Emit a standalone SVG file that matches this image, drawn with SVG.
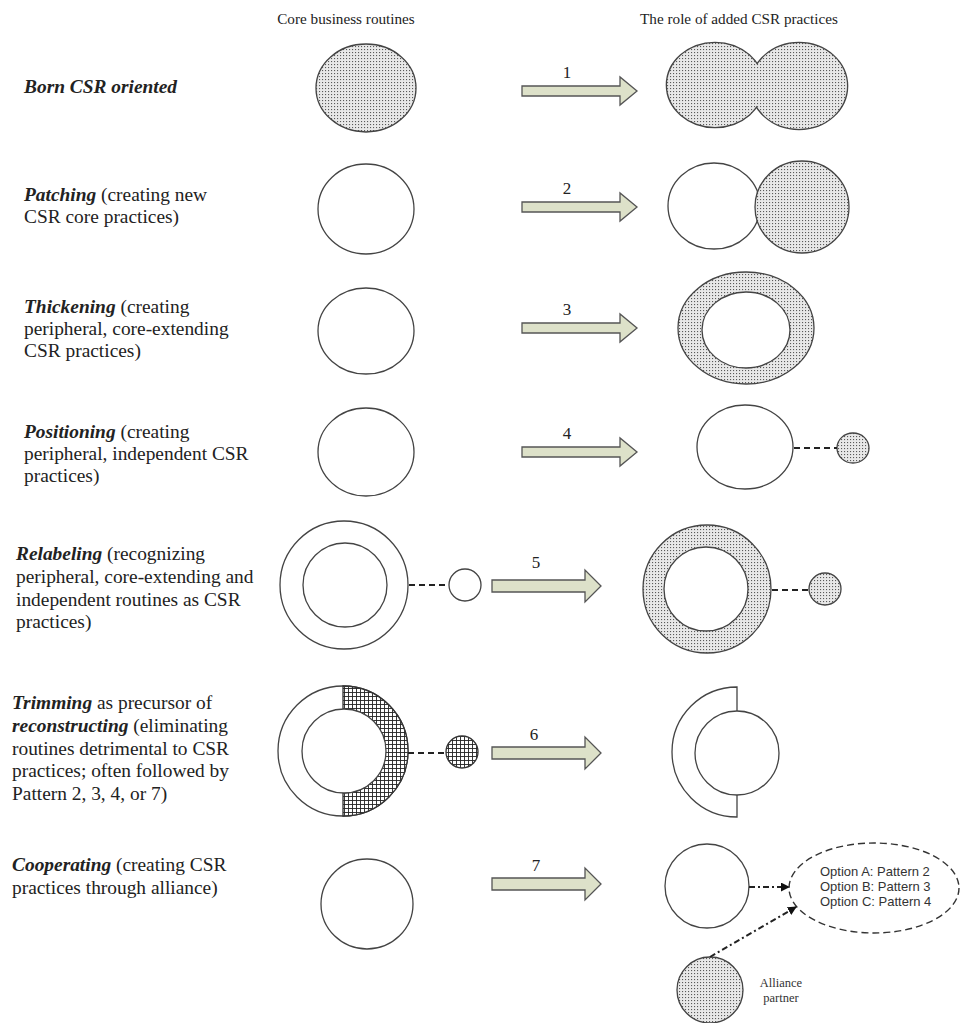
<svg xmlns="http://www.w3.org/2000/svg" width="962" height="1023" viewBox="0 0 962 1023">
<defs>
<pattern id="dots" patternUnits="userSpaceOnUse" width="3" height="3">
<rect width="3" height="3" fill="#e8e8e8"/>
<rect x="1" y="1" width="1.1" height="1.1" fill="#5a5a5a"/>
</pattern>
<pattern id="hatch" patternUnits="userSpaceOnUse" width="4" height="4">
<rect width="4" height="4" fill="#fff"/>
<path d="M0 0.5H4M0.5 0V4" stroke="#222" stroke-width="0.9"/>
</pattern>
<marker id="ah" viewBox="0 0 10 10" refX="9" refY="5" markerWidth="9" markerHeight="9" markerUnits="userSpaceOnUse" orient="auto">
<path d="M0 0L10 5L0 10Z" fill="#111"/>
</marker>
<style>
.t{font-family:"Liberation Serif","Times New Roman",serif;font-size:19.4px;fill:#222}
.h{font-family:"Liberation Serif","Times New Roman",serif;font-size:15.2px;fill:#222}
.n{font-family:"Liberation Serif","Times New Roman",serif;font-size:17px;fill:#222;text-anchor:middle}
.bi{font-weight:bold;font-style:italic}
.o{font-family:"Liberation Sans",Arial,sans-serif;font-size:13px;fill:#333}
.sm{font-family:"Liberation Serif","Times New Roman",serif;font-size:12.5px;fill:#333;text-anchor:middle}
.w{fill:#fff;stroke:#444;stroke-width:1.3}
.d{fill:url(#dots);stroke:#444;stroke-width:1.3}
.x{fill:url(#hatch);stroke:#333;stroke-width:1.3}
.arr{fill:#dde1c9;stroke:#555;stroke-width:1.3}
.dash{stroke:#222;stroke-width:2;stroke-dasharray:6 4;fill:none}
.dd{stroke:#222;stroke-width:2;stroke-dasharray:6 3 2 3;fill:none}
</style>
</defs>
<rect width="962" height="1023" fill="#fff"/>

<g id="headers">
<text class="h" x="346" y="24" text-anchor="middle">Core business routines</text>
<text class="h" x="739" y="24" text-anchor="middle">The role of added CSR practices</text>
</g>

<g id="labels">
<text class="t" x="24" y="93"><tspan class="bi">Born CSR oriented</tspan></text>
<text class="t" x="24" y="201"><tspan class="bi">Patching</tspan> (creating new</text>
<text class="t" x="24" y="223">CSR core practices)</text>
<text class="t" x="24" y="313"><tspan class="bi">Thickening</tspan> (creating</text>
<text class="t" x="24" y="335">peripheral, core-extending</text>
<text class="t" x="24" y="357">CSR practices)</text>
<text class="t" x="24" y="438"><tspan class="bi">Positioning</tspan> (creating</text>
<text class="t" x="24" y="460">peripheral, independent CSR</text>
<text class="t" x="24" y="482">practices)</text>
<text class="t" x="16" y="560"><tspan class="bi">Relabeling</tspan> (recognizing</text>
<text class="t" x="16" y="583">peripheral, core-extending and</text>
<text class="t" x="16" y="606">independent routines as CSR</text>
<text class="t" x="16" y="628">practices)</text>
<text class="t" x="12" y="709"><tspan class="bi">Trimming</tspan> as precursor of</text>
<text class="t" x="12" y="732"><tspan class="bi">reconstructing</tspan> (eliminating</text>
<text class="t" x="12" y="755">routines detrimental to CSR</text>
<text class="t" x="12" y="777">practices; often followed by</text>
<text class="t" x="12" y="800">Pattern 2, 3, 4, or 7)</text>
<text class="t" x="12" y="871"><tspan class="bi">Cooperating</tspan> (creating CSR</text>
<text class="t" x="12" y="894">practices through alliance)</text>
</g>

<g id="core1"><ellipse class="d" cx="366" cy="88" rx="50" ry="44"/></g>
<g id="core2"><ellipse class="w" cx="366" cy="209" rx="48" ry="45"/></g>
<g id="core3"><ellipse class="w" cx="366" cy="331" rx="48" ry="43"/></g>
<g id="core4"><ellipse class="w" cx="366" cy="452" rx="48" ry="44"/></g>
<g id="core5">
<circle class="w" cx="344" cy="585" r="64"/>
<circle class="w" cx="345" cy="585" r="42"/>
<circle class="w" cx="465" cy="585" r="16"/>
</g>
<g id="core6">
<circle class="w" cx="343" cy="751" r="65"/>
<path class="x" d="M343 686A65 65 0 0 1 343 816L343 793A42 42 0 0 0 343 709Z"/>
<circle class="w" cx="344" cy="751" r="42"/>
<circle class="x" cx="462" cy="752" r="16"/>
</g>
<g id="core7"><ellipse class="w" cx="367" cy="904" rx="46" ry="45"/></g>

<g id="role1">
<ellipse cx="715" cy="85" rx="48" ry="42" fill="none" stroke="#444" stroke-width="2.6"/>
<ellipse cx="799" cy="86" rx="48" ry="43" fill="none" stroke="#444" stroke-width="2.6"/>
<ellipse cx="715" cy="85" rx="48" ry="42" fill="url(#dots)"/>
<ellipse cx="799" cy="86" rx="48" ry="43" fill="url(#dots)"/>
</g>
<g id="role2">
<ellipse class="w" cx="714" cy="206" rx="46" ry="43"/>
<ellipse class="d" cx="802" cy="207" rx="47" ry="46"/>
</g>
<g id="role3">
<ellipse class="d" cx="746" cy="328" rx="68" ry="56"/>
<ellipse class="w" cx="746" cy="330" rx="44" ry="38"/>
</g>
<g id="role4">
<ellipse class="w" cx="745" cy="447" rx="48" ry="42"/>
<ellipse class="d" cx="853" cy="448" rx="16" ry="15"/>
</g>
<g id="role5">
<circle class="d" cx="707" cy="589" r="64"/>
<circle class="w" cx="706" cy="589" r="42"/>
<circle class="d" cx="825" cy="589" r="16"/>
</g>
<g id="role6">
<path d="M737 711L737 687A65 65 0 0 0 737 817L737 795" fill="#fff" stroke="#444" stroke-width="1.3"/>
<circle class="w" cx="737" cy="753" r="42"/>
</g>
<g id="role7">
<circle class="w" cx="707" cy="886" r="42"/>
<ellipse cx="874" cy="888" rx="85" ry="45" fill="#fff" stroke="#333" stroke-width="1.4" stroke-dasharray="7 4"/>
<text class="o" x="820" y="876">Option A: Pattern 2</text>
<text class="o" x="820" y="891">Option B: Pattern 3</text>
<text class="o" x="820" y="906">Option C: Pattern 4</text>
</g>
<g id="alliance">
<circle class="d" cx="710" cy="990" r="33"/>
<text class="sm" x="781" y="987">Alliance</text>
<text class="sm" x="781" y="1002">partner</text>
</g>

<g id="connectors">
<line class="dash" x1="409" y1="585" x2="449" y2="585"/>
<line class="dash" x1="408" y1="753" x2="446" y2="753"/>
<line class="dash" x1="794" y1="448" x2="837" y2="448"/>
<line class="dash" x1="772" y1="590" x2="809" y2="590"/>
<line class="dd" x1="749" y1="887" x2="789" y2="887" marker-end="url(#ah)"/>
<line class="dd" x1="710" y1="957" x2="796" y2="907" marker-end="url(#ah)"/>

<path class="arr" d="M522 86H620V77L637 91L620 105V96H522Z"/>
<text class="n" x="567" y="78">1</text>
<path class="arr" d="M522 202H620V193L637 207L620 221V212H522Z"/>
<text class="n" x="567" y="194">2</text>
<path class="arr" d="M522 323H620V314L637 328L620 342V333H522Z"/>
<text class="n" x="567" y="315">3</text>
<path class="arr" d="M522 447H620V438L637 452L620 466V457H522Z"/>
<text class="n" x="567" y="439">4</text>
<path class="arr" d="M492 580H585V570L601 586L585 602V592H492Z"/>
<text class="n" x="536" y="568">5</text>
<path class="arr" d="M492 747H585V737L601 753L585 769V759H492Z"/>
<text class="n" x="534" y="740">6</text>
<path class="arr" d="M492 878H585V868L601 884L585 900V890H492Z"/>
<text class="n" x="536" y="871">7</text>
</g>
</svg>
